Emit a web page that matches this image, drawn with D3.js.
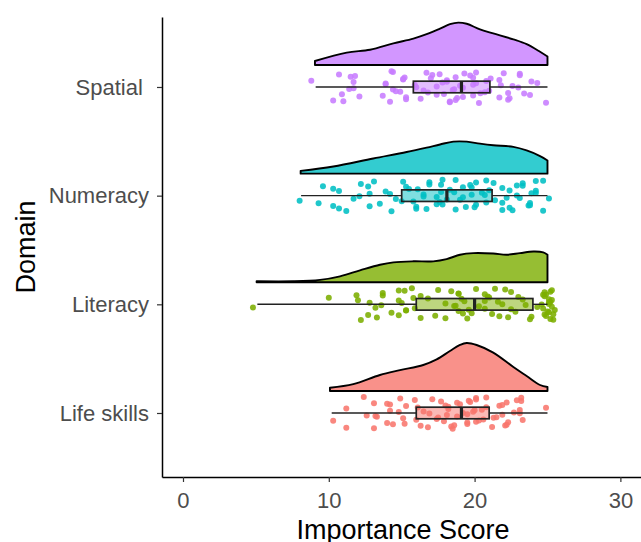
<!DOCTYPE html>
<html>
<head>
<meta charset="utf-8">
<script src="https://cdn.jsdelivr.net/npm/d3@7"></script>
<style>
  body { margin: 0; background: #fff; }
  svg { font-family: "Liberation Sans", Arial, sans-serif; }
</style>
</head>
<body>
<div id="chart"></div>
<script>
// domains, bottom to top
const domains = ['Life skills', 'Literacy', 'Numeracy', 'Spatial'];
const domainLabels = ['Life skills', 'Literacy', 'Numeracy', 'Spatial '];
const domainColors = ['#F8766D', '#7CAE00', '#00BFC4', '#C77CFF'];

const xTicks = [0, 10, 20, 30];

// individual scores
const lifeSkillsScores = [12.4, 13.3, 14.2, 14.4, 14.8, 15.9, 16.0, 16.1, 16.8, 18.1, 18.8, 19.5, 20.0, 20.1, 21.3, 21.7, 22.1, 23.1, 23.2,
  10.3, 11.2, 13.1, 13.2, 14.0, 15.2, 16.5, 17.1, 17.4, 18.2, 18.4, 19.5, 19.7, 20.1, 20.5, 20.8, 21.5, 21.9, 22.2, 22.7, 22.9, 23.3, 24.9,
  11.2, 12.6, 13.1, 14.0, 14.2, 14.9, 15.1, 15.3, 16.3, 16.9, 17.7, 17.9, 18.2, 18.5, 18.8, 19.0, 19.5, 19.9, 20.1, 20.6, 20.8, 21.2,
  21.9, 22.2, 22.3, 23.1, 23.2, 17.5, 18.0, 18.6, 19.2, 19.6, 20.3];
const literacyScores = [12.0, 12.2, 13.2, 13.7, 14.8, 15.0, 15.2, 15.3, 16.8, 18.0, 18.6, 18.9, 19.2, 19.3, 20.1, 20.7, 20.9, 21.7, 21.9,
  22.5, 22.8, 23.3, 23.8, 24.3, 24.7, 24.8, 25.1, 25.3, 25.5, 10.0, 13.3, 13.6, 13.7, 14.3, 14.8, 15.7, 15.9, 16.3, 17.3, 18.0, 18.4,
  18.9, 19.1, 19.5, 20.3, 20.7, 21.2, 21.6, 22.1, 22.5, 23.0, 23.9, 24.6, 24.8, 25.1, 25.3, 25.4, 4.8, 11.9, 12.7, 12.8, 14.8, 15.3,
  15.8, 16.3, 18.7, 18.9, 19.8, 20.7, 21.4, 24.7, 24.8, 24.9, 25.1, 25.2, 25.0, 25.1, 25.2, 25.3, 24.9, 25.4, 25.2, 17.5, 19.6, 21.0,
  22.3, 23.5];
const numeracyScores = [9.3, 10.7, 11.2, 11.7, 12.7, 12.8, 14.2, 15.1, 15.8, 16.1, 16.7, 17.4, 17.7, 17.8, 18.6, 18.7, 19.0, 19.8, 20.0,
  20.7, 21.3, 21.9, 22.4, 22.6, 23.1, 23.3, 23.7, 23.9, 24.2, 8.0, 10.3, 10.7, 12.1, 12.2, 13.5, 13.9, 14.3, 14.6, 15.3, 16.0, 16.5,
  16.9, 17.6, 18.3, 18.7, 19.2, 19.7, 20.1, 20.5, 20.8, 21.4, 21.9, 22.4, 22.9, 23.3, 23.8, 24.2, 24.7, 25.1, 9.6, 10.3, 12.8, 13.1,
  15.0, 15.5, 16.0, 16.5, 16.9, 17.4, 17.7, 17.8, 18.1, 19.2, 19.4, 19.8, 20.1, 20.8, 21.0, 21.9, 22.2, 22.9, 23.8, 24.2, 24.7];
const spatialScores = [10.7, 10.9, 11.7, 14.2, 14.4, 15.2, 15.3, 15.9, 16.7, 16.8, 18.1, 18.7, 19.2, 19.7, 19.9, 20.1, 20.3, 21.0, 21.1,
  22.4, 22.6, 23.1, 23.4, 23.9, 11.0, 11.4, 11.5, 12.1, 13.9, 14.4, 14.9, 15.1, 15.3, 16.0, 17.1, 17.4, 17.8, 18.3, 18.5, 19.9, 21.7,
  21.8, 22.0, 22.3, 8.8, 10.3, 11.7, 11.8, 13.7, 13.9, 14.3, 14.6, 15.1, 16.3, 17.4, 17.6, 17.9, 18.1, 18.3, 18.6, 18.7, 19.2, 19.9,
  20.1, 20.7, 21.7, 22.3, 23.0, 23.1, 23.8, 24.3, 24.9, 16.5, 17.0, 18.8, 19.0, 19.3, 20.4, 20.8];

// half-violin density profiles: [score, density]
const lifeSkillsDensity = [[10.08, 0.008], [11.68, 0.017], [13.51, 0.040], [14.88, 0.052], [16.48, 0.065], [17.4, 0.079], [18.31, 0.100],
  [19.0, 0.115], [19.46, 0.120], [20.14, 0.115], [21.28, 0.096], [22.66, 0.060], [23.57, 0.0375], [24.49, 0.015], [25.0, 0.010]];
const literacyDensity = [[5.05, 0.0025], [7.57, 0.0025], [9.4, 0.006], [10.77, 0.015], [12.14, 0.030], [13.51, 0.044], [14.43, 0.050],
  [15.8, 0.0525], [17.17, 0.0525], [18.08, 0.058], [19.0, 0.069], [19.91, 0.073], [21.28, 0.072], [22.2, 0.069], [23.11, 0.073],
  [24.03, 0.077], [24.71, 0.075], [25.0, 0.069]];
const numeracyDensity = [[8.07, 0.007], [10.31, 0.018], [13.05, 0.038], [15.34, 0.054], [16.71, 0.065], [17.63, 0.073], [18.54, 0.080],
  [19.46, 0.080], [20.37, 0.075], [21.28, 0.071], [22.66, 0.067], [23.57, 0.058], [24.49, 0.044], [25.0, 0.033]];
const spatialDensity = [[9.05, 0.010], [11.23, 0.031], [12.83, 0.038], [14.43, 0.054], [15.8, 0.066], [16.71, 0.077], [17.63, 0.091],
  [18.31, 0.102], [18.88, 0.106], [19.46, 0.103], [20.37, 0.089], [21.28, 0.079], [22.66, 0.064], [23.57, 0.052], [24.49, 0.033],
  [25.0, 0.021]];

// boxplot stats per domain
const whiskerLow = [10.2, 5.1, 8.1, 9.1];
const boxQ1 = [16.0, 16.0, 15.0, 15.8];
const boxMedian = [19.1, 20.0, 18.1, 19.1];
const boxQ3 = [21.0, 24.0, 21.2, 21.05];
const whiskerHigh = [25.0, 25.0, 25.0, 25.0];

const allScores = [lifeSkillsScores, literacyScores, numeracyScores, spatialScores];
const allDensity = [lifeSkillsDensity, literacyDensity, numeracyDensity, spatialDensity];

const width = 641, height = 542;
const margin = { top: 17, right: -3, bottom: 65, left: 162 };

const svg = d3.select('#chart').append('svg')
  .attr('width', width)
  .attr('height', height);

const x = d3.scaleLinear()
  .domain([-1.44, 31.62])
  .range([margin.left, width - margin.right]);

const y = d3.scaleLinear()
  .domain([0.411, 4.644])
  .range([height - margin.bottom, margin.top]);

const dens = d3.scaleLinear().domain([0, 0.12]).range([0, 48]);

const violinNudge = 22;  // px above category centre
const boxHalf = 5.8;
const jitterH = 16;

domains.forEach((name, i) => {
  const cy = y(i + 1);
  const base = cy - violinNudge;
  const col = domainColors[i];

  const area = d3.area()
    .x(d => x(d[0]))
    .y0(base)
    .y1(d => base - dens(d[1]))
    .curve(d3.curveCatmullRom.alpha(0.5));

  svg.append('path')
    .datum(allDensity[i])
    .attr('d', area)
    .attr('fill', col)
    .attr('fill-opacity', 0.8)
    .attr('stroke', '#000')
    .attr('stroke-width', 1.9)
    .attr('stroke-linejoin', 'round');

  // jittered points
  svg.append('g')
    .selectAll('circle')
    .data(allScores[i])
    .enter()
    .append('circle')
    .attr('cx', d => x(d))
    .attr('cy', (d, j) => {
      const f = (j * 0.6180339887 + i * 0.37) % 1;
      return cy + (f * 2 - 1) * jitterH;
    })
    .attr('r', 3)
    .attr('fill', col)
    .attr('fill-opacity', 0.88);

  // box and whiskers
  const g = svg.append('g').attr('stroke', '#222');
  g.append('line')
    .attr('x1', x(whiskerLow[i])).attr('x2', x(boxQ1[i]))
    .attr('y1', cy).attr('y2', cy)
    .attr('stroke-width', 1.4);
  g.append('line')
    .attr('x1', x(boxQ3[i])).attr('x2', x(whiskerHigh[i]))
    .attr('y1', cy).attr('y2', cy)
    .attr('stroke-width', 1.4);
  g.append('rect')
    .attr('x', x(boxQ1[i]))
    .attr('y', cy - boxHalf)
    .attr('width', x(boxQ3[i]) - x(boxQ1[i]))
    .attr('height', boxHalf * 2)
    .attr('fill', col)
    .attr('fill-opacity', 0.5)
    .attr('stroke-width', 1.7);
  g.append('line')
    .attr('x1', x(boxMedian[i])).attr('x2', x(boxMedian[i]))
    .attr('y1', cy - boxHalf).attr('y2', cy + boxHalf)
    .attr('stroke-width', 3.2);
});

// axes
const xAxis = svg.append('g')
  .attr('transform', `translate(0,${height - margin.bottom})`)
  .call(d3.axisBottom(x).tickValues(xTicks).tickSize(5).tickSizeOuter(0).tickPadding(10));

const yAxis = svg.append('g')
  .attr('transform', `translate(${margin.left},0)`)
  .call(d3.axisLeft(y).tickValues([1, 2, 3, 4]).tickFormat(d => domainLabels[d - 1])
    .tickSize(5).tickSizeOuter(0).tickPadding(8));

[xAxis, yAxis].forEach(a => {
  a.select('.domain').attr('stroke', '#000').attr('stroke-width', 1.5);
  a.selectAll('.tick line').attr('stroke', '#333').attr('stroke-width', 1.2);
  a.selectAll('.tick text')
    .attr('fill', '#4D4D4D')
    .style('font-size', '22px')
    .style('font-family', '"Liberation Sans", Arial, sans-serif')
    .style('white-space', 'pre');
});

svg.append('text')
  .attr('x', (margin.left + width - margin.right) / 2)
  .attr('y', 539)
  .attr('text-anchor', 'middle')
  .style('font-size', '27px')
  .attr('fill', '#000')
  .text('Importance Score');

svg.append('text')
  .attr('transform', `translate(35,${(margin.top + height - margin.bottom) / 2}) rotate(-90)`)
  .attr('text-anchor', 'middle')
  .style('font-size', '27px')
  .attr('fill', '#000')
  .text('Domain');
</script>
</body>
</html>
